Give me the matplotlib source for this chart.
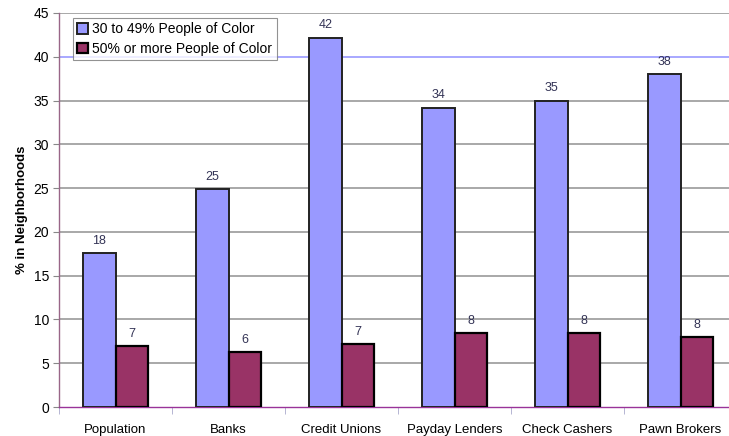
import matplotlib.pyplot as plt
import numpy as np

categories = ["Population", "Banks", "Credit Unions", "Payday Lenders",
              "Check Cashers", "Pawn Brokers"]
poc_30_49 = [17.6, 24.9, 42.2, 34.2, 35.0, 38.0]
poc_50_plus = [7.0, 6.3, 7.2, 8.4, 8.4, 8.0]
labels_30_49 = [18, 25, 42, 34, 35, 38]
labels_50_plus = [7, 6, 7, 8, 8, 8]

plt.rcParams['font.family'] = ['Liberation Sans', 'DejaVu Sans']

W, H = 729, 436
fig = plt.figure(figsize=(W / 100, H / 100), dpi=100)
# the plot area runs a little past the right edge of the figure
ax = fig.add_axes([59 / W, 1 - 407 / H, 678 / W, 394 / H])

x = np.arange(len(categories))
bw = 0.285
blue = '#9999ff'
maroon = '#993366'

ax.bar(x - bw / 2, poc_30_49, bw, color=blue, edgecolor='#222222', linewidth=1.4,
       label='30 to 49% People of Color', zorder=3)
ax.bar(x + bw / 2, poc_50_plus, bw, color=maroon, edgecolor='black', linewidth=1.6,
       label='50% or more People of Color', zorder=3)

for xi, v, t in zip(x, poc_30_49, labels_30_49):
    ax.text(xi - bw / 2, v + 0.7, str(t), ha='center', va='bottom', fontsize=9,
            color='#333355')
for xi, v, t in zip(x, poc_50_plus, labels_50_plus):
    ax.text(xi + bw / 2, v + 0.7, str(t), ha='center', va='bottom', fontsize=9,
            color='#333355')

ax.set_ylim(0, 45)
ax.set_xlim(-0.5, len(categories) - 0.5)
ax.set_yticks(range(0, 46, 5))
ax.tick_params(axis='y', labelsize=10, length=4, color='#888888', pad=3)

# category labels centered, tick marks on the group boundaries
ax.set_xticks(x)
ax.set_xticklabels(categories, fontsize=9.5)
ax.tick_params(axis='x', length=0, pad=12)
ax.set_xticks(np.arange(-0.5, len(categories), 1), minor=True)
ax.tick_params(axis='x', which='minor', length=5, color='#aaaacc', direction='out')

for yv in range(5, 46, 5):
    c = '#9999ff' if yv == 40 else '#999999'
    ax.axhline(yv, color=c, linewidth=1.2, zorder=1)

for s in ['top', 'right']:
    ax.spines[s].set_visible(False)
ax.spines['left'].set_color('#996688')
ax.spines['left'].set_linewidth(1.0)
ax.spines['bottom'].set_color('#993399')
ax.spines['bottom'].set_linewidth(1.0)

ax.set_ylabel('% in Neighborhoods', fontsize=9.5, fontweight='bold', labelpad=4)

leg = ax.legend(loc='upper left', bbox_to_anchor=(14 / 678, 1 - 5 / 394),
                fontsize=10, frameon=True, fancybox=False, borderpad=0.3,
                handlelength=0.8, handleheight=0.8, handletextpad=0.3,
                labelspacing=0.4, borderaxespad=0)
leg.get_frame().set_edgecolor('#777777')
leg.get_frame().set_linewidth(0.8)
leg.set_zorder(5)

fig.savefig('out.png', dpi=100)
